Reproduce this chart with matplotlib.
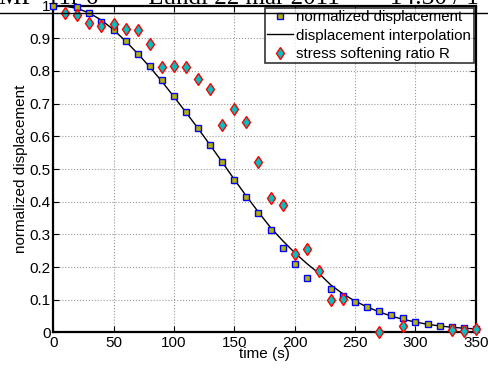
import matplotlib.pyplot as plt
import numpy as np

plt.rcParams['font.family'] = ['Liberation Sans', 'DejaVu Sans']

# normalized displacement (squares)
t_disp = [0, 20, 30, 40, 50, 60, 70, 80, 90, 100, 110, 120, 130, 140, 150,
          160, 170, 180, 190, 200, 210, 230, 240, 250, 260, 270, 280, 290,
          300, 310, 320, 330, 340, 350]
disp = [0.998, 0.995, 0.978, 0.951, 0.924, 0.891, 0.851, 0.814, 0.771, 0.723,
        0.673, 0.625, 0.572, 0.522, 0.466, 0.414, 0.365, 0.313, 0.259, 0.208,
        0.168, 0.134, 0.113, 0.092, 0.078, 0.066, 0.052, 0.043, 0.032, 0.026,
        0.021, 0.016, 0.014, 0.011]

# displacement interpolation (curve)
t_fit = [0, 10, 20, 30, 40, 50, 60, 70, 80, 90, 100, 110, 120, 130, 140, 150,
         160, 170, 180, 190, 200, 210, 220, 230, 240, 250, 260, 270, 280, 290,
         300, 310, 320, 330, 340, 350]
fit = [1.0, 0.998, 0.991, 0.977, 0.955, 0.926, 0.891, 0.853, 0.812, 0.768,
       0.721, 0.673, 0.624, 0.573, 0.521, 0.468, 0.417, 0.368, 0.321, 0.281,
       0.244, 0.211, 0.181, 0.145, 0.118, 0.096, 0.078, 0.063, 0.050, 0.040,
       0.032, 0.025, 0.020, 0.016, 0.013, 0.011]

# stress softening ratio R (diamonds)
t_r = [10, 20, 30, 40, 50, 60, 70, 80, 90, 100, 110, 120, 130, 140, 150, 160,
       170, 180, 190, 200, 210, 220, 230, 240, 270, 290, 330, 340, 350]
ratio_r = [0.978, 0.971, 0.947, 0.936, 0.942, 0.929, 0.925, 0.883, 0.813,
           0.815, 0.812, 0.775, 0.745, 0.636, 0.685, 0.645, 0.522, 0.411,
           0.390, 0.241, 0.255, 0.188, 0.098, 0.103, 0.0, 0.021, 0.007,
           0.006, 0.012]

fig = plt.figure(figsize=(4.88, 3.69), dpi=100)
ax = fig.add_axes([0.109, 0.099, 0.866, 0.886])

ax.plot(t_disp, disp, 's', ms=4.5, mfc=(0.7, 0.7, 0.0), mec='b', mew=1.0,
        label='normalized displacement', clip_on=False, zorder=3)
ax.plot(t_fit, fit, '-', color='k', lw=1.0, label='displacement interpolation',
        zorder=2)
ax.plot(t_r, ratio_r, 'd', ms=6.5, mfc='c', mec='r', mew=1.0,
        label='stress softening ratio R', clip_on=False, zorder=4)

ax.set_xlim(0, 350)
ax.set_ylim(0, 1)
ax.set_xticks(range(0, 351, 50))
ax.set_yticks(np.arange(0, 1.01, 0.1))
ax.set_yticklabels(['0', '0.1', '0.2', '0.3', '0.4', '0.5', '0.6', '0.7',
                    '0.8', '0.9', '1'])
ax.tick_params(direction='in', top=True, right=True, labelsize=11,
               length=4, width=0.8)
ax.tick_params(axis='x', pad=2.5)
ax.tick_params(axis='y', pad=2.0)
ax.grid(True, linestyle=':', color='0.6', lw=0.8)
for s in ax.spines.values():
    s.set_linewidth(1.6)
ax.set_xlabel('time (s)', fontsize=11, labelpad=-2)
ax.set_ylabel('normalized displacement', fontsize=11, labelpad=1)

leg = ax.legend(loc='upper right', fontsize=10.8, frameon=True, fancybox=False,
                borderpad=0.15, labelspacing=0.3, handlelength=1.7,
                handletextpad=0.25, borderaxespad=0.15)
leg.get_frame().set_edgecolor('k')
leg.get_frame().set_linewidth(1.2)

# page header, cut by the top of the picture
fig.add_artist(plt.Line2D([0, 1], [0.965, 0.965], color='k', lw=1.0))
fig.text(0.49, 1.005, 'MP  11r 6  \u2014  Lundi 22 mar 2011  \u2014  14:30 / 1',
         ha='center', va='center', fontsize=18, family='Liberation Serif')

fig.savefig('out.png', dpi=100)
